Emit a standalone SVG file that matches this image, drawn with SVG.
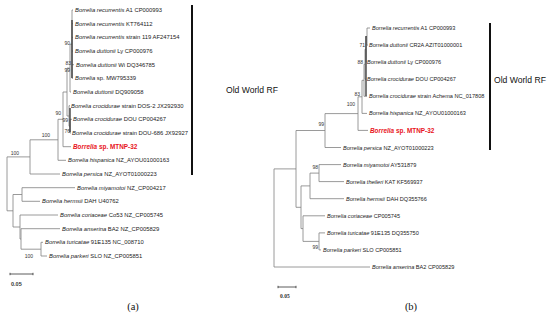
<svg xmlns="http://www.w3.org/2000/svg" width="550" height="325" viewBox="0 0 550 325">
<style>
.br{fill:none;stroke:#808080;stroke-width:0.8}
.dk{fill:none;stroke:#333;stroke-width:1.3}
.bar{stroke:#111;stroke-width:2}
.lf{font-family:"Liberation Sans",Arial,sans-serif;font-size:5.85px;fill:#222}
.lfb{font-family:"Liberation Sans",Arial,sans-serif;font-size:5.6px;fill:#222}
.i{font-style:italic}
.red{font-family:"Liberation Sans",Arial,sans-serif;font-size:6.4px;fill:#e8141c;font-weight:bold}
.bs{font-family:"Liberation Sans",Arial,sans-serif;font-size:5px;fill:#333;text-anchor:end}
.ow{font-family:"Liberation Sans",Arial,sans-serif;font-size:8.6px;fill:#111}
.sc{font-family:"Liberation Sans",Arial,sans-serif;font-size:5.5px;font-weight:bold;fill:#333}
.cap{font-family:"Liberation Serif","Times New Roman",serif;font-size:10.5px;fill:#111;text-anchor:middle}
</style>
<g id="connectors">
<path class="br" d="M72,10V78.3 M72,10H73 M72,23.7H73 M72,37.3H73 M72,51H73 M72,64.7H74 M72,78.3H73"/>
<path class="br" d="M70,44.2V92 M70,44.2H72 M70,92H71"/>
<path class="br" d="M69,105.7V126.2 M69,105.7H70 M69,126.2H70 M70,119.3V133 M70,119.3H72 M70,133H71"/>
<path class="br" d="M67,68.1V116 M67,68.1H70 M67,116H69"/>
<path class="br" d="M63,92V146.7 M63,92H67 M63,146.7H71"/>
<path class="br" d="M58,119.3V160.3 M58,119.3H63 M58,160.3H66"/>
<path class="br" d="M30,139.8V174 M30,139.8H58 M30,174H60"/>
<path class="br" d="M22,187.7V201.3 M22,187.7H75 M22,201.3H40"/>
<path class="br" d="M41,242.3V256 M41,242.3H43 M41,256H47"/>
<path class="br" d="M21,228.7V249.2 M21,228.7H60 M21,249.2H41"/>
<path class="br" d="M20,215V239 M20,215H58 M20,239H21"/>
<path class="br" d="M13,194.5V227 M13,194.5H22 M13,227H20"/>
<path class="br" d="M7,156.9V210.8 M7,156.9H30 M7,210.8H13"/>
<path class="dk" d="M72,20V78 M70,108V132"/>
<path class="br" d="M367,28V45.1 M367,28H370 M367,45.1H368"/>
<path class="br" d="M366,36.6V62.1 M366,36.6H367 M366,62.1H366.5"/>
<path class="br" d="M365,49.3V79.2 M365,49.3H366 M365,79.2H366"/>
<path class="br" d="M364,64.3V96.3 M364,64.3H365 M364,96.3H367"/>
<path class="br" d="M362,80.3V113.4 M362,80.3H364 M362,113.4H367"/>
<path class="br" d="M358,96.8V130.4 M358,96.8H362 M358,130.4H368"/>
<path class="br" d="M325,113.6V147.5 M325,113.6H358 M325,147.5H341"/>
<path class="br" d="M319,164.6V181.6 M319,164.6H341 M319,181.6H344"/>
<path class="br" d="M310,173.1V198.7 M310,173.1H319 M310,198.7H344"/>
<path class="br" d="M319,232.9V249.9 M319,232.9H325 M319,249.9H321"/>
<path class="br" d="M303,215.8V241.4 M303,215.8H325 M303,241.4H319"/>
<path class="br" d="M301,185.9V228.6 M301,185.9H310 M301,228.6H303"/>
<path class="br" d="M296,130.5V207.3 M296,130.5H325 M296,207.3H301"/>
<path class="br" d="M274,168.9V267 M274,168.9H296 M274,267H370"/>
<path class="dk" d="M366,36V96"/>
</g>
<g id="tree-a-leaves">
<g id="a1"><text class="lf" x="75" y="12"><tspan class="i">Borrelia recurrentis</tspan> A1 CP000993</text></g>
<g id="a2"><text class="lf" x="75" y="25.7"><tspan class="i">Borrelia recurrentis</tspan> KT764112</text></g>
<g id="a3"><text class="lf" x="75" y="39.3"><tspan class="i">Borrelia recurrentis</tspan> strain 119 AF247154</text></g>
<g id="a4"><text class="lf" x="75" y="53"><tspan class="i">Borrelia duttonii</tspan> Ly CP000976</text></g>
<g id="a5"><text class="lf" x="76" y="66.7"><tspan class="i">Borrelia duttonii</tspan> Wi DQ346785</text></g>
<g id="a6"><text class="lf" x="75" y="80.3"><tspan class="i">Borrelia</tspan> sp. MW795339</text></g>
<g id="a7"><text class="lf" x="73" y="94"><tspan class="i">Borrelia duttonii</tspan> DQ909058</text></g>
<g id="a8"><text class="lf" x="71" y="107.7"><tspan class="i">Borrelia crocidurae</tspan> strain DOS-2 JX292930</text></g>
<g id="a9"><text class="lf" x="73" y="121.3"><tspan class="i">Borrelia crocidurae</tspan> DOU CP004267</text></g>
<g id="a10"><text class="lf" x="72" y="135"><tspan class="i">Borrelia crocidurae</tspan> strain DOU-686 JX92927</text></g>
<g id="a11"><text class="red" x="73" y="149"><tspan class="i">Borrelia</tspan> sp. MTNP-32</text></g>
<g id="a12"><text class="lf" x="68" y="162.3"><tspan class="i">Borrelia hispanica</tspan> NZ_AYOU01000163</text></g>
<g id="a13"><text class="lf" x="62" y="176"><tspan class="i">Borrelia persica</tspan> NZ_AYOT01000223</text></g>
<g id="a14"><text class="lf" x="77" y="189.7"><tspan class="i">Borrelia miyamotoi</tspan> NZ_CP004217</text></g>
<g id="a15"><text class="lf" x="42" y="203.3"><tspan class="i">Borrelia hermsii</tspan> DAH U40762</text></g>
<g id="a16"><text class="lf" x="60" y="217"><tspan class="i">Borrelia coriaceae</tspan> Co53 NZ_CP005745</text></g>
<g id="a17"><text class="lf" x="62" y="230.7"><tspan class="i">Borrelia anserina</tspan> BA2 NZ_CP005829</text></g>
<g id="a18"><text class="lf" x="45" y="244.3"><tspan class="i">Borrelia turicatae</tspan> 91E135 NC_008710</text></g>
<g id="a19"><text class="lf" x="49" y="258"><tspan class="i">Borrelia parkeri</tspan> SLO NZ_CP005851</text></g>
</g>
<g id="tree-a-support">
<text class="bs" x="70" y="45">90</text>
<text class="bs" x="71" y="65">83</text>
<text class="bs" x="70" y="72">99</text>
<text class="bs" x="61" y="115">90</text>
<text class="bs" x="68" y="122">99</text>
<text class="bs" x="70" y="133">76</text>
<text class="bs" x="50" y="137">100</text>
<text class="bs" x="19" y="155">100</text>
<text class="bs" x="33" y="258">100</text>
</g>
<g id="tree-a-extra">
<line class="bar" x1="192" y1="5" x2="192" y2="175"/>
<text class="ow" x="226" y="93">Old World RF</text>
<path class="br" d="M10,274H33 M10,272.8V275.2 M33,272.8V275.2" style="stroke:#333"/>
<text class="sc" x="11" y="286">0.05</text>
<text class="cap" x="133" y="310">(a)</text>
</g>
<g id="tree-b-leaves">
<g id="b1"><text class="lfb" x="372" y="30"><tspan class="i">Borrelia recurrentis</tspan> A1 CP000993</text></g>
<g id="b2"><text class="lfb" x="369" y="47.1"><tspan class="i">Borrelia duttonii</tspan>  CR2A AZIT01000001</text></g>
<g id="b3"><text class="lfb" x="367" y="64.1"><tspan class="i">Borrelia duttonii</tspan>  Ly CP000976</text></g>
<g id="b4"><text class="lfb" x="367" y="81.2"><tspan class="i">Borrelia crocidurae</tspan> DOU CP004267</text></g>
<g id="b5"><text class="lfb" x="369" y="98.3"><tspan class="i">Borrelia crocidurae</tspan> strain Achema NC_017808</text></g>
<g id="b6"><text class="lfb" x="369" y="115.4"><tspan class="i">Borrelia hispanica</tspan> NZ_AYOU01000163</text></g>
<g id="b7"><text class="red" x="370" y="132.6"><tspan class="i">Borrelia</tspan> sp. MTNP-32</text></g>
<g id="b8"><text class="lfb" x="343" y="149.5"><tspan class="i">Borrelia persica</tspan> NZ_AYOT01000223</text></g>
<g id="b9"><text class="lfb" x="343" y="166.6"><tspan class="i">Borrelia miyamotoi</tspan> AY531879</text></g>
<g id="b10"><text class="lfb" x="346" y="183.6"><tspan class="i">Borrelia theileri</tspan> KAT KF569937</text></g>
<g id="b11"><text class="lfb" x="346" y="200.7"><tspan class="i">Borrelia hermsii</tspan> DAH DQ355766</text></g>
<g id="b12"><text class="lfb" x="327" y="217.8"><tspan class="i">Borrelia coriaceae</tspan> CP005745</text></g>
<g id="b13"><text class="lfb" x="327" y="234.9"><tspan class="i">Borrelia turicatae</tspan> 91E135 DQ355750</text></g>
<g id="b14"><text class="lfb" x="323" y="251.9"><tspan class="i">Borrelia parkeri</tspan> SLO CP005851</text></g>
<g id="b15"><text class="lfb" x="372" y="269"><tspan class="i">Borrelia anserina</tspan> BA2 CP005829</text></g>
</g>
<g id="tree-b-support">
<text class="bs" x="365" y="47">71</text>
<text class="bs" x="363" y="64">88</text>
<text class="bs" x="360" y="96">83</text>
<text class="bs" x="355" y="106">100</text>
<text class="bs" x="324" y="126">99</text>
<text class="bs" x="318" y="169">98</text>
<text class="bs" x="318" y="249">99</text>
</g>
<g id="tree-b-extra">
<line class="bar" x1="490" y1="23" x2="490" y2="150"/>
<text class="ow" x="494" y="83">Old World RF</text>
<path class="br" d="M278,287H296 M278,285.8V288.2 M296,285.8V288.2" style="stroke:#333"/>
<text class="sc" x="280" y="298" style="font-family:'Liberation Serif',serif">0.05</text>
<text class="cap" x="411" y="310">(b)</text>
</g>
</svg>
